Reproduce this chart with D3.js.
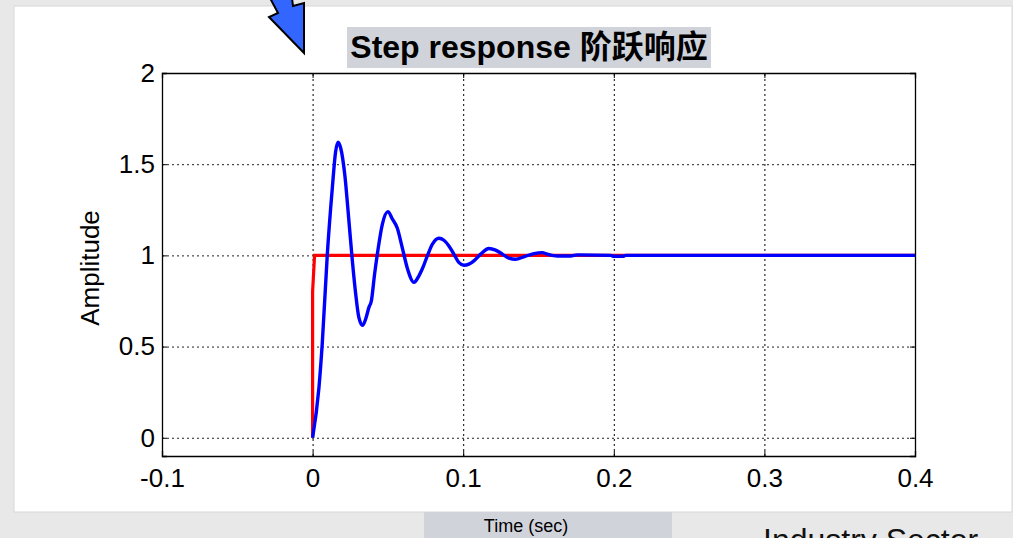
<!DOCTYPE html>
<html>
<head>
<meta charset="utf-8">
<script src="https://cdn.jsdelivr.net/npm/d3@7"></script>
<style>
  body { margin: 0; background: #e8e8e8; }
  svg { display: block; }
</style>
</head>
<body>
<div id="chart"></div>
<script>
// step response data: [time (sec), amplitude]
var stepInput = [[0, 0], [0, 0.8], [0.0013, 1.0], [0.4, 1.0]];
var stepOutput = [
  [0, 0], [0.0042, 0.274], [0.0064, 0.515], [0.0098, 1.01], [0.0131, 1.37],
  [0.0153, 1.57], [0.0169, 1.62], [0.0186, 1.59], [0.0214, 1.44], [0.0241, 1.19],
  [0.0264, 0.97], [0.0286, 0.79], [0.0307, 0.66], [0.0332, 0.616], [0.0352, 0.65],
  [0.0374, 0.715], [0.039, 0.75], [0.0412, 0.90], [0.0434, 1.03], [0.0463, 1.17],
  [0.05, 1.24], [0.0529, 1.20], [0.0562, 1.15], [0.0596, 1.04], [0.0629, 0.93],
  [0.0673, 0.852], [0.0706, 0.888], [0.0728, 0.925], [0.0762, 0.997], [0.0795, 1.061],
  [0.0839, 1.094], [0.0872, 1.083], [0.0905, 1.052], [0.0938, 1.007], [0.0972, 0.96],
  [0.1005, 0.946], [0.1038, 0.952], [0.1071, 0.97], [0.1116, 1.007], [0.1171, 1.038],
  [0.1215, 1.029], [0.126, 1.007], [0.1303, 0.985], [0.1348, 0.979], [0.1403, 0.992],
  [0.147, 1.01], [0.1525, 1.015], [0.1558, 1.007], [0.1625, 0.997], [0.1713, 0.997],
  [0.1758, 1.003], [0.198, 1.0], [0.2, 0.995], [0.206, 0.995], [0.208, 1.0], [0.4, 1.0]
];
var xTicks = [-0.1, 0, 0.1, 0.2, 0.3, 0.4];
var xTickLabels = ["-0.1", "0", "0.1", "0.2", "0.3", "0.4"];
var yTicks = [0, 0.5, 1, 1.5, 2];
var yTickLabels = ["0", "0.5", "1", "1.5", "2"];

var W = 1013, H = 538;
var plotLeft = 162, plotRight = 915, plotTop = 73, plotBottom = 456;
var font = "'Liberation Sans', Arial, 'Noto Sans CJK SC', sans-serif";

var svg = d3.select("#chart").append("svg").attr("width", W).attr("height", H);

// white page panel
svg.append("rect").attr("x", 14).attr("y", 6).attr("width", 998).attr("height", 506)
    .attr("fill", "#ffffff").attr("stroke", "#d8d8d8").attr("stroke-width", 1);

var x_scale = d3.scaleLinear().domain([-0.1, 0.4]).range([plotLeft, plotRight]);
var y_scale = d3.scaleLinear().domain([-0.1, 2]).range([plotBottom, plotTop]);

// dotted grid
svg.append("g")
    .attr("transform", "translate(0," + plotBottom + ")")
    .call(d3.axisBottom(x_scale).tickValues(xTicks.slice(1, -1)).tickSize(-(plotBottom - plotTop)).tickFormat(""))
    .call(g => g.select(".domain").remove())
    .selectAll("line").attr("stroke", "#000").attr("stroke-dasharray", "2,3");
svg.append("g")
    .attr("transform", "translate(" + plotLeft + ",0)")
    .call(d3.axisLeft(y_scale).tickValues(yTicks).tickSize(-(plotRight - plotLeft)).tickFormat(""))
    .call(g => g.select(".domain").remove())
    .selectAll("line").attr("stroke", "#222").attr("stroke-dasharray", "2,3");

// axes, ticks pointing inward on all four sides
var x_axis = d3.axisBottom(x_scale).tickValues(xTicks).tickSize(-5).tickPadding(13)
    .tickFormat((d, i) => xTickLabels[i]);
var y_axis = d3.axisLeft(y_scale).tickValues(yTicks).tickSize(-5).tickPadding(7)
    .tickFormat((d, i) => yTickLabels[i]);

svg.append("g").attr("transform", "translate(0," + plotBottom + ")").call(x_axis);
svg.append("g").attr("transform", "translate(" + plotLeft + ",0)").call(y_axis);
svg.append("g").attr("transform", "translate(0," + plotTop + ")")
    .call(d3.axisTop(x_scale).tickValues(xTicks).tickSize(-5).tickFormat(""));
svg.append("g").attr("transform", "translate(" + plotRight + ",0)")
    .call(d3.axisRight(y_scale).tickValues(yTicks).tickSize(-5).tickFormat(""));

svg.selectAll(".domain").attr("stroke", "#000").attr("stroke-width", 1.3);
svg.selectAll(".tick text").attr("font-family", font).attr("font-size", 26).attr("fill", "#000");

// curves
var line = d3.line().x(d => x_scale(d[0])).y(d => y_scale(d[1]));
var smooth = d3.line().curve(d3.curveMonotoneX).x(d => x_scale(d[0])).y(d => y_scale(d[1]));
svg.append("path").datum(stepInput).attr("d", line)
    .attr("fill", "none").attr("stroke", "#ff0000").attr("stroke-width", 3.2);
svg.append("path").datum(stepOutput).attr("d", smooth)
    .attr("fill", "none").attr("stroke", "#0000ff").attr("stroke-width", 3.4)
    .attr("stroke-linejoin", "round");

// title
svg.append("rect").attr("x", 347).attr("y", 27).attr("width", 364).attr("height", 41)
    .attr("fill", "#d0d3da");
svg.append("text").attr("x", 529).attr("y", 58).attr("text-anchor", "middle")
    .attr("font-family", font).attr("font-size", 32).attr("font-weight", "bold")
    .text("Step response 阶跃响应");

// y label
svg.append("text").attr("transform", "translate(99,268) rotate(-90)")
    .attr("text-anchor", "middle").attr("font-family", font).attr("font-size", 26)
    .text("Amplitude");

// x label on its grey strip
svg.append("rect").attr("x", 424).attr("y", 512).attr("width", 248).attr("height", 26)
    .attr("fill", "#d0d3da");
svg.append("text").attr("x", 526).attr("y", 532).attr("text-anchor", "middle")
    .attr("font-family", font).attr("font-size", 18).text("Time (sec)");

// footer text, cut off by the bottom edge like in the picture
svg.append("text").attr("x", 763).attr("y", 551)
    .attr("font-family", font).attr("font-size", 32).attr("fill", "#111").text("Industry Sector");

// blue pointer arrow at top
var arrowPts = [[270, -2], [278, 13], [269, 17], [304, 53], [304, 3], [293, 6], [292, -2]];
svg.append("path").attr("d", "M" + arrowPts.join("L") + "Z")
    .attr("fill", "#3366ff").attr("stroke", "#000").attr("stroke-width", 2)
    .attr("stroke-linejoin", "miter");
</script>
</body>
</html>
